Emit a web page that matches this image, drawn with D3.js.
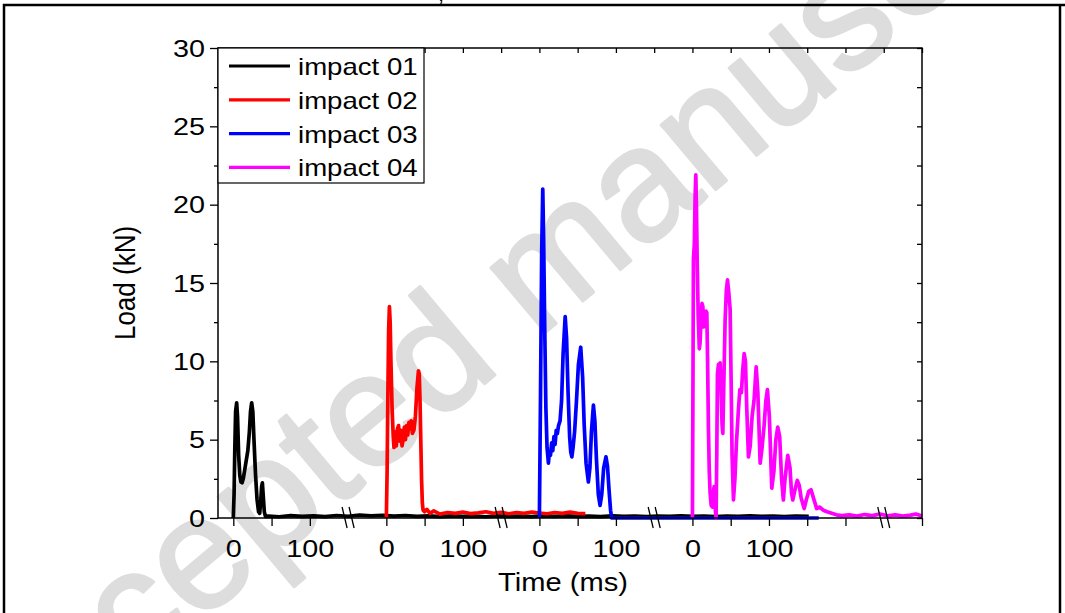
<!DOCTYPE html>
<html>
<head>
<meta charset="utf-8">
<script src="https://cdn.jsdelivr.net/npm/d3@7"></script>
<style>
  body { margin: 0; background: #fff; }
  svg { display: block; font-family: "Liberation Sans", Arial, sans-serif; }
</style>
</head>
<body>
<div id="chart"></div>
<script>
// four drop tests, each plotted on its own segment of a broken time axis
const impactNames = ['impact 01', 'impact 02', 'impact 03', 'impact 04'];
const impactColors = ['#000000', '#ff0000', '#0000ff', '#ff00ff'];
const impactOffsets = [0, 200, 400, 600]; // axis position of each test's 0 ms

// [time (ms), load (kN)]
const impact01 = [
  [0, 0], [1, 1.5], [2, 4.5], [3, 6.8], [4.4, 7.35], [5.5, 6.5], [7, 4], [8.5, 2.7], [10, 2.3],
  [11.5, 2.25], [13, 2.5], [15, 3.1], [17, 3.7], [19, 4.3], [21, 5.5], [22.5, 6.8], [24, 7.35],
  [25.5, 6.8], [27, 5], [29, 2.8], [31, 1.2], [33, 0.4], [34.5, 0.3], [36, 1.2], [37, 2], [38, 2.25],
  [39, 1.5], [40.5, 0.4], [42, 0.1], [46, 0.12], [60, 0.08], [75, 0.15], [90, 0.1], [105, 0.13],
  [120, 0.09], [135, 0.16], [150, 0.11], [165, 0.18], [180, 0.13], [195, 0.17], [210, 0.12],
  [225, 0.16], [240, 0.1], [255, 0.14], [270, 0.09], [285, 0.13], [300, 0.1], [315, 0.12],
  [330, 0.08], [345, 0.13], [360, 0.1], [375, 0.12], [390, 0.09], [405, 0.14], [420, 0.11],
  [435, 0.13], [450, 0.1], [465, 0.12], [480, 0.09], [495, 0.13], [510, 0.1], [525, 0.12],
  [540, 0.09], [555, 0.12], [570, 0.1], [585, 0.13], [600, 0.1], [615, 0.12], [630, 0.09],
  [645, 0.12], [660, 0.1], [675, 0.13], [690, 0.1], [705, 0.12], [720, 0.09], [735, 0.12], [752, 0.1]
];
const impact02 = [
  [0, 0], [1, 3], [2, 8], [3, 12], [4, 13.5], [5, 12.5], [6, 10], [7.5, 7], [9, 5.2], [10, 4.5],
  [11.5, 5.5], [13, 4.6], [14.5, 5.7], [16, 5.9], [17.5, 4.9], [19, 5.6], [20.5, 4.6], [22, 5.0],
  [23.5, 5.8], [25, 5.0], [26.5, 5.9], [28, 5.3], [29.5, 6.1], [31, 5.7], [32.5, 6.2], [34, 5.4],
  [36, 5.6], [38, 6.5], [40, 8.3], [42, 9.4], [43, 9.2], [44, 7.5], [45, 5], [46, 2.5], [47, 1],
  [48, 0.5], [50, 0.4], [53, 0.55], [57, 0.3], [62, 0.45], [70, 0.25], [80, 0.35], [90, 0.3],
  [100, 0.38], [110, 0.28], [120, 0.33], [130, 0.4], [140, 0.3], [150, 0.36], [160, 0.27],
  [170, 0.35], [180, 0.3], [190, 0.38], [200, 0.32], [210, 0.27], [220, 0.35], [230, 0.3],
  [240, 0.37], [250, 0.3], [260, 0.28]
];
const impact03 = [
  [0, 0], [1.5, 8], [3, 17], [4.4, 21], [5.5, 18], [7, 12], [8.5, 7], [10, 4.5], [11.8, 3.5],
  [13, 4.2], [14.5, 4.0], [16, 4.8], [17.5, 4.3], [19, 5.2], [20.5, 4.7], [22, 5.6], [23.5, 5.4],
  [25, 5.9], [27, 6.2], [29, 7.5], [31, 10.5], [33.7, 12.85], [35.5, 11.5], [37.5, 8], [39.5, 5.2],
  [41, 4.2], [42.4, 3.9], [44, 4.5], [46, 5.5], [48.5, 7.5], [51, 9.8], [54, 10.9], [56.5, 9],
  [58.5, 6], [61, 3.5], [64, 2.3], [66, 3.2], [68, 5.5], [70.6, 7.2], [72.5, 6.2], [74.5, 3.8],
  [77, 1.5], [79.3, 0.8], [81.5, 1.5], [84, 3.2], [87, 3.9], [89, 3.3], [91, 1.8], [93, 0.5],
  [94.5, 0], [365, 0]
];
const impact04 = [
  [0, 0], [0.8, 10], [1.3, 16.5], [2.5, 17.5], [3.5, 20.5], [4.4, 21.9], [5.2, 20], [6.2, 16.5],
  [7.5, 13], [9, 10.8], [10, 11.2], [11.5, 13], [12.5, 13.7], [13.6, 13.5], [14.8, 12.2],
  [15.8, 12.8], [16.6, 12.4], [17.8, 13.2], [18.8, 13.1], [19.8, 10], [20.9, 5.8], [22, 3],
  [23.1, 1.6], [24.5, 0.8], [26.1, 0.7], [27.2, 1.5], [28.3, 2], [29.5, 0.8], [30.9, 0], [31.8, 4],
  [32.7, 9.2], [34, 9.8], [35, 8.5], [36.2, 9.9], [37.5, 8], [38.7, 6], [39.7, 5.4], [41, 8.5],
  [42.7, 12.6], [44.3, 14.5], [45.8, 15.2], [47.5, 14.4], [49.3, 13.3], [50.5, 9], [51.8, 4],
  [53.6, 1.15], [55.5, 2.5], [57.5, 4.8], [60.1, 6.9], [62, 8.2], [64, 8], [65.8, 9.5], [67.6, 10.5],
  [69.3, 10], [71, 7], [73.2, 3.9], [75.5, 4.6], [78, 6.5], [80.5, 7.5], [83.3, 9.65], [85.5, 8],
  [88.5, 3.5], [91, 4.5], [93.5, 5.8], [96, 7.5], [98, 8.2], [100.5, 6.5], [103.7, 1.9], [106.5, 3],
  [109, 5], [111.5, 5.8], [114, 5.2], [116.5, 2.5], [118.8, 1.15], [121, 2.5], [124.6, 4.0],
  [127.5, 3.2], [129.5, 1.6], [131.1, 1.15], [134, 1.8], [137, 2.4], [139.5, 2.1], [142, 1.3],
  [146, 0.6], [149, 1.2], [152, 1.7], [155, 1.8], [158, 1.3], [162.4, 0.6], [166, 0.7], [171, 0.5],
  [176, 0.4], [182, 0.3], [188, 0.2], [195, 0.15], [205, 0.2], [215, 0.12], [225, 0.22],
  [235, 0.15], [245, 0.25], [255, 0.14], [265, 0.2], [275, 0.12], [285, 0.18], [292, 0.25], [300, 0.12]
];
const impactData = [impact01, impact02, impact03, impact04];

const yMajorTicks = [0, 5, 10, 15, 20, 25, 30];
const yMinorTicks = [2.5, 7.5, 12.5, 17.5, 22.5, 27.5];
const xBottomTicks = [0, 50, 100, 200, 250, 300, 400, 450, 500, 600, 650, 700, 750, 800, 900];
const xTopTicks = [0, 50, 100, 150, 200, 250, 300, 350, 400, 450, 500, 550, 600, 650, 700, 750, 800, 850, 900];
const xLabelValues = [0, 100, 200, 300, 400, 500, 600, 700];
const xLabelText = ['0', '100', '0', '100', '0', '100', '0', '100'];
const xBreaks = [150, 350, 550, 850];

const W = 1065, H = 613;
const margin = { left: 218, right: 143, top: 48, bottom: 95 };

const svg = d3.select('#chart').append('svg')
  .attr('width', W)
  .attr('height', H);

svg.append('rect').attr('width', W).attr('height', H).attr('fill', '#fff');

// watermark
svg.append('text')
  .attr('transform', 'translate(-8,797) rotate(-40)')
  .attr('fill', '#dddddd')
  .attr('stroke', '#dddddd')
  .attr('stroke-width', 3)
  .attr('stroke-linejoin', 'round')
  .style('font-size', '160px')
  .text('Accepted manuscript');

// page frame + clipped caption glyph
svg.append('path')
  .attr('d', `M4,${H} V5 H${W} M1060,5 V${H}`)
  .attr('fill', 'none')
  .attr('stroke', '#000')
  .attr('stroke-width', 2.5);
svg.append('text').attr('x', 438).attr('y', 1).style('font-size', '22px').text(',');

const x = d3.scaleLinear().domain([-20, 900]).range([margin.left, W - margin.right]);
const y = d3.scaleLinear().domain([0, 30]).range([H - margin.bottom, margin.top]);

const line = d3.line()
  .x(d => x(d[0]))
  .y(d => y(d[1]));

const plot = svg.append('g');
impactData.forEach((data, i) => {
  plot.append('path')
    .datum(data.map(d => [d[0] + impactOffsets[i], d[1]]))
    .attr('fill', 'none')
    .attr('stroke', impactColors[i])
    .attr('stroke-width', 3.7)
    .attr('stroke-linejoin', 'round')
    .attr('d', line);
});

// axes
const labelFor = v => {
  const k = xLabelValues.indexOf(v);
  return k < 0 ? '' : xLabelText[k];
};

const xAxis = svg.append('g')
  .attr('transform', `translate(0,${y(0)})`)
  .call(d3.axisBottom(x).tickValues(xBottomTicks).tickSize(8).tickSizeOuter(0).tickFormat(labelFor));
xAxis.selectAll('text')
  .attr('y', null).attr('dy', null)
  .attr('transform', 'translate(0,39) scale(1.25,1)');

svg.append('g')
  .attr('transform', `translate(0,${y(30)})`)
  .call(d3.axisTop(x).tickValues(xTopTicks).tickSize(-5).tickSizeOuter(0).tickFormat(''));

const yAxis = svg.append('g')
  .attr('transform', `translate(${x(-20)},0)`)
  .call(d3.axisLeft(y).tickValues(yMajorTicks).tickSize(8).tickSizeOuter(0));
yAxis.selectAll('text')
  .attr('x', null).attr('dy', '0.35em')
  .attr('transform', 'translate(-13,0) scale(1.25,1)');

svg.append('g')
  .attr('transform', `translate(${x(-20)},0)`)
  .call(d3.axisLeft(y).tickValues(yMinorTicks).tickSize(4).tickSizeOuter(0).tickFormat(''));

svg.append('g')
  .attr('transform', `translate(${x(900)},0)`)
  .call(d3.axisRight(y).tickValues(yMajorTicks.concat(yMinorTicks)).tickSize(-5).tickSizeOuter(0).tickFormat(''));

svg.selectAll('.domain').remove();
svg.selectAll('.tick line').attr('stroke', '#000').attr('stroke-width', 1.3);
svg.selectAll('.tick text')
  .attr('fill', '#000')
  .style('font-size', '23px')
  .style('font-family', '"Liberation Sans", Arial, sans-serif');

// plot frame
svg.append('rect')
  .attr('x', x(-20)).attr('y', y(30))
  .attr('width', x(900) - x(-20)).attr('height', y(0) - y(30))
  .attr('fill', 'none')
  .attr('stroke', '#000')
  .attr('stroke-width', 1.5);

// axis break marks
xBreaks.forEach(b => {
  const cx = x(b);
  [-3.5, 3.5].forEach(o => {
    svg.append('line')
      .attr('x1', cx + o - 2.5).attr('y1', y(0) - 11)
      .attr('x2', cx + o + 2.5).attr('y2', y(0) + 10)
      .attr('stroke', '#000')
      .attr('stroke-width', 1.3);
  });
});

// axis titles
svg.append('text')
  .attr('transform', 'translate(563,591) scale(1.12,1)')
  .attr('text-anchor', 'middle')
  .style('font-size', '26px')
  .text('Time (ms)');

svg.append('text')
  .attr('transform', `translate(135,${(y(0) + y(30)) / 2}) scale(1.12,1) rotate(-90)`)
  .attr('text-anchor', 'middle')
  .style('font-size', '26px')
  .text('Load (kN)');

// legend
const legend = svg.append('g');
legend.append('rect')
  .attr('x', x(-20)).attr('y', y(30))
  .attr('width', 206).attr('height', 135)
  .attr('fill', '#fff')
  .attr('stroke', '#000')
  .attr('stroke-width', 1.2);

impactNames.forEach((name, i) => {
  const ly = 66 + i * 33.8;
  legend.append('line')
    .attr('x1', 229).attr('x2', 290)
    .attr('y1', ly).attr('y2', ly)
    .attr('stroke', impactColors[i])
    .attr('stroke-width', 3.2);
  legend.append('text')
    .attr('transform', `translate(298,${ly + 9}) scale(1.2,1)`)
    .style('font-size', '23px')
    .text(name);
});
</script>
</body>
</html>
